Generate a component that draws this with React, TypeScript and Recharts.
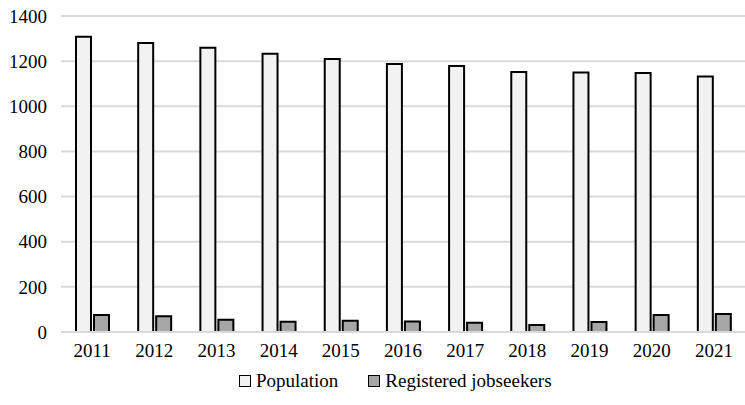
import React from "react";
import { BarChart, Bar, XAxis, YAxis, CartesianGrid, Legend } from "recharts";

const years = ["2011", "2012", "2013", "2014", "2015", "2016", "2017", "2018", "2019", "2020", "2021"];
const population = [1308, 1280, 1259, 1233, 1210, 1187, 1178, 1152, 1150, 1148, 1132];
const jobseekers = [75, 70, 54, 45, 50, 46, 41, 31, 44, 75, 80];
const yTicks = [0, 200, 400, 600, 800, 1000, 1200, 1400];

const data = years.map((y, i) => ({ year: y, population: population[i], jobseekers: jobseekers[i] }));

const font = "Tinos, 'Times New Roman', Times, 'Liberation Serif', 'DejaVu Serif', serif";

const LegendContent = () => (
  <div style={{ display: "flex", justifyContent: "flex-start", paddingLeft: 239, fontFamily: font, fontSize: 19, lineHeight: "22px", color: "#000" }}>
    {[
      { label: "Population", fill: "#f2f2f2" },
      { label: "Registered jobseekers", fill: "#a6a6a6" },
    ].map((it, i) => (
      <div key={i} style={{ display: "flex", alignItems: "center", marginLeft: i ? 30 : 0 }}>
        <span style={{ display: "inline-block", width: 10, height: 10, border: "1.5px solid #000", background: it.fill, marginRight: 5 }} />
        <span>{it.label}</span>
      </div>
    ))}
  </div>
);

export default function App() {
  return (
    <div style={{ position: "absolute", left: 0, top: 0, width: 745, height: 405, background: "#fff", fontFamily: font }}>
      <BarChart
        width={745}
        height={405}
        data={data}
        margin={{ top: 16, right: 0, bottom: 21, left: 0 }}
        barSize={15}
        barGap={3}
        style={{ fontFamily: font }}
      >
        <CartesianGrid vertical={false} stroke="#d9d9d9" strokeWidth={2} />
        <XAxis
          dataKey="year"
          tickLine={false}
          axisLine={{ stroke: "#d9d9d9", strokeWidth: 2 }}
          tick={{ fill: "#000", fontSize: 19, fontFamily: font }}
          height={30}
          tickMargin={6}
          interval={0}
        />
        <YAxis
          width={61}
          domain={[0, 1400]}
          ticks={yTicks}
          tickLine={false}
          axisLine={false}
          tick={{ fill: "#000", fontSize: 19, fontFamily: font }}
          tickMargin={8}
          interval={0}
        />
        <Legend verticalAlign="bottom" content={<LegendContent />} wrapperStyle={{ bottom: 13 }} />
        <Bar dataKey="population" fill="#f2f2f2" stroke="#000" strokeWidth={2} isAnimationActive={false} />
        <Bar dataKey="jobseekers" fill="#a6a6a6" stroke="#000" strokeWidth={2} isAnimationActive={false} />
      </BarChart>
    </div>
  );
}
